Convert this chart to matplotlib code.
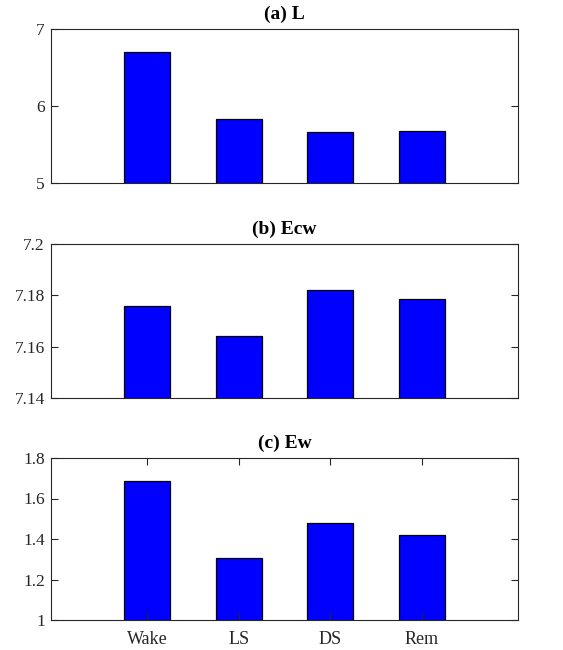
import matplotlib.pyplot as plt

stages = ["Wake", "LS", "DS", "Rem"]
L_vals = [6.705, 5.829, 5.659, 5.672]
Ecw_vals = [7.1758, 7.164, 7.182, 7.1787]
Ew_vals = [1.687, 1.306, 1.480, 1.419]

titles = ["(a) L", "(b) Ecw", "(c) Ew"]
ylims = [(5, 7), (7.14, 7.2), (1, 1.8)]
yticks = [[5, 6, 7], [7.14, 7.16, 7.18, 7.2], [1, 1.2, 1.4, 1.6, 1.8]]
ylabels = [["5", "6", "7"], ["7.14", "7.16", "7.18", "7.2"],
           ["1", "1.2", "1.4", "1.6", "1.8"]]

plt.rcParams['font.family'] = ['Liberation Serif']

fig = plt.figure(figsize=(5.63, 6.5), dpi=100)
W, H = 563, 650
boxes = [(29, 183), (244, 398), (458, 620)]
x = [1, 2, 3, 4]
gray = (0.15, 0.15, 0.15)

for i, vals in enumerate([L_vals, Ecw_vals, Ew_vals]):
    top, bot = boxes[i]
    ax = fig.add_axes([51 / W, 1 - bot / H, (518 - 51) / W, (bot - top) / H])
    ax.bar(x, vals, width=0.5, color=(0, 0, 1), edgecolor="black", linewidth=0.9)
    ax.set_xlim(-0.05, 5.05)
    ax.set_ylim(*ylims[i])
    ax.set_yticks(yticks[i])
    ax.set_yticklabels(ylabels[i])
    ax.set_title(titles[i], fontweight="bold", fontsize=14, pad=7)
    for s in ax.spines.values():
        s.set_color(gray)
        s.set_linewidth(0.8)
    ax.tick_params(axis="y", direction="in", left=True, right=True, length=5,
                   color=gray, labelcolor=gray, labelsize=12.5, pad=4.5)
    if i == 2:
        ax.set_xticks(x)
        ax.set_xticklabels(stages)
        ax.tick_params(axis="x", direction="in", top=True, bottom=True, length=5,
                       color=gray, labelcolor=gray, labelsize=13, pad=8)
    else:
        ax.set_xticks([])

fig.savefig("out.png", dpi=100)
